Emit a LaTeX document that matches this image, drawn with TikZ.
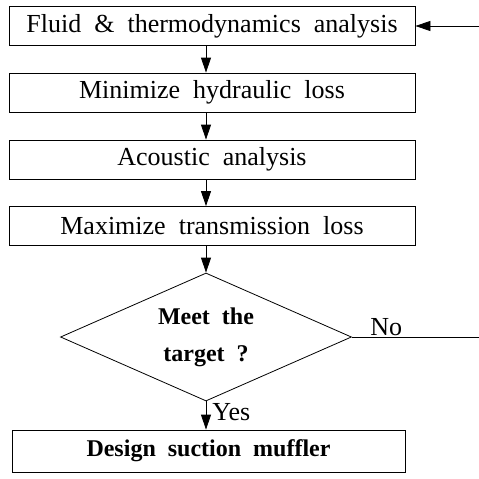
\documentclass[tikz,border=0pt]{standalone}
\usepackage{fontspec}
\setmainfont{Liberation Serif}[WordSpace=2]
\usetikzlibrary{shapes.geometric,arrows.meta}

\begin{document}
\begin{tikzpicture}[x=1pt,y=1pt,line width=0.8pt,
    every node/.style={font=\fontsize{26}{36}\selectfont},
    stage/.style={draw,rectangle,minimum width=406pt,minimum height=39pt,inner sep=0pt},
    check/.style={draw,diamond,minimum width=291pt,minimum height=128pt,aspect=2.27,
        inner sep=0pt,align=center,font=\bfseries\fontsize{24}{37}\selectfont},
    tag/.style={inner sep=0pt},
    flow/.style={-{Triangle[length=15pt,width=10pt]}}]
    \useasboundingbox (0,0) rectangle (479,-479);
    % steps of the design loop
    \node[stage] (fluid) at (212,-26) {Fluid \& thermodynamics analysis};
    \node[stage] (hydro) at (212,-92.5) {Minimize hydraulic loss};
    \node[stage] (acous) at (212,-159.5) {Acoustic analysis};
    \node[stage] (trans) at (212,-226) {Maximize transmission loss};
    \node[check] (target) at (206,-337) {Meet the\\target ?};
    \node[stage,minimum width=393pt,minimum height=42pt,font=\bfseries\fontsize{24}{36}\selectfont]
        (muffler) at (208.5,-451) {Design suction muffler};
    % free ends of the loop at the right edge
    \coordinate (back) at (479,-26);
    \coordinate (nogo) at (479,-337);
    % connectors
    \draw[flow] (fluid.south -| target.north) -- (hydro.north -| target.north);
    \draw[flow] (hydro.south -| target.north) -- (acous.north -| target.north);
    \draw[flow] (acous.south -| target.north) -- (trans.north -| target.north);
    \draw[flow] (trans.south -| target.north) -- (target.north);
    \draw[flow] (target.south) -- (muffler.north -| target.south);
    \draw (target.east) -- (nogo);
    \draw[flow] (back) -- (fluid.east);
    % branch labels
    \node[tag,anchor=south west] (no) at ([xshift=18pt,yshift=1pt]target.east) {No};
    \node[tag,anchor=north west] (yes) at ([xshift=6pt,yshift=-2pt]target.south) {Yes};
\end{tikzpicture}
\end{document}
